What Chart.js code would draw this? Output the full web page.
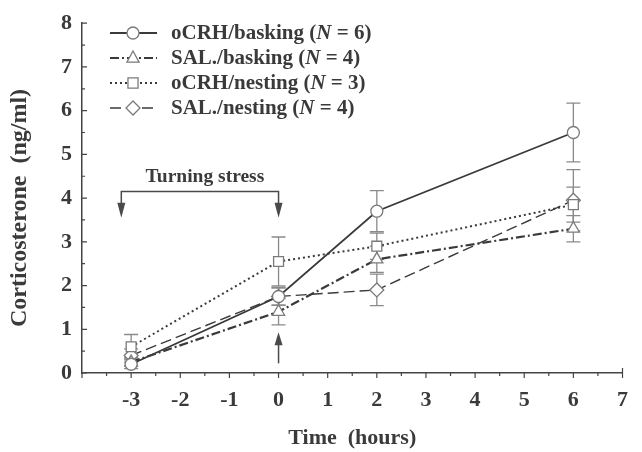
<!DOCTYPE html>
<html><head><meta charset="utf-8">
<script src="https://cdn.jsdelivr.net/npm/chart.js@4.4.1/dist/chart.umd.min.js"></script>
<style>html,body{margin:0;padding:0;background:#fff}#wrap{width:642px;height:452px}</style>
</head><body><div id="wrap"><canvas id="c" width="642" height="452"></canvas></div>
<script>
// ---- data ----
const hours = [-3, 0, 2, 6];
const seriesNames = ['oCRH/basking', 'SAL./basking', 'oCRH/nesting', 'SAL./nesting'];
const seriesN = [6, 4, 3, 4];
const ocrhBasking = [0.2, 1.75, 3.7, 5.5];
const ocrhBaskingErr = [0.1, 0.2, 0.47, 0.67];
const salBasking = [0.25, 1.4, 2.6, 3.3];
const salBaskingErr = [0.1, 0.3, 0.3, 0.3];
const ocrhNesting = [0.6, 2.55, 2.9, 3.85];
const ocrhNestingErr = [0.28, 0.56, 0.3, 0.4];
const salNesting = [0.4, 1.75, 1.9, 3.95];
const salNestingErr = [0.15, 0.2, 0.36, 0.7];
const xTickValues = [-4, -3, -2, -1, 0, 1, 2, 3, 4, 5, 6, 7];
const yTickValues = [0, 1, 2, 3, 4, 5, 6, 7, 8];
const stressLabel = 'Turning stress';
const stressFrom = -3.2, stressTo = 0;
const xTitle = 'Time  (hours)';
const yTitle = 'Corticosterone  (ng/ml)';

const seriesValues = [ocrhBasking, salBasking, ocrhNesting, salNesting];
const seriesErrs = [ocrhBaskingErr, salBaskingErr, ocrhNestingErr, salNestingErr];

// ---- styles ----
const INK = '#3a3a3a';
const MARK = '#7a7a7a';
const SERIF = '"Liberation Serif", "Times New Roman", serif';
const styles = [
  {dash: [], width: 1.8, point: 'circle', r: 6},
  {dash: [9, 3, 2, 3], width: 2.2, point: 'triangle', r: 7},
  {dash: [2, 3], width: 2, point: 'rect', r: 7},
  {dash: [11, 5], width: 1.4, point: 'rectRot', r: 7}
];

function drawMarker(ctx, type, x, y, r) {
  ctx.save();
  ctx.beginPath();
  if (type === 'circle') {
    ctx.arc(x, y, r, 0, Math.PI * 2);
  } else if (type === 'triangle') {
    ctx.moveTo(x, y - r);
    ctx.lineTo(x + r * 0.87, y + r * 0.6);
    ctx.lineTo(x - r * 0.87, y + r * 0.6);
    ctx.closePath();
  } else if (type === 'rect') {
    const s = r * 0.72;
    ctx.rect(x - s, y - s, 2 * s, 2 * s);
  } else {
    ctx.moveTo(x, y - r); ctx.lineTo(x + r, y); ctx.lineTo(x, y + r); ctx.lineTo(x - r, y); ctx.closePath();
  }
  ctx.setLineDash([]);
  ctx.fillStyle = '#fff';
  ctx.fill();
  ctx.lineWidth = 1.3;
  ctx.strokeStyle = MARK;
  ctx.stroke();
  ctx.restore();
}

const datasets = seriesValues.map((vals, i) => ({
  label: seriesNames[i],
  data: hours.map((h, j) => ({x: h, y: vals[j]})),
  borderColor: INK,
  borderWidth: styles[i].width,
  borderDash: styles[i].dash,
  pointStyle: styles[i].point,
  pointRadius: styles[i].r,
  pointBackgroundColor: '#fff',
  pointBorderColor: MARK,
  pointBorderWidth: 1.3,
  fill: false,
  tension: 0
}));

const bgPlugin = {
  id: 'bg',
  beforeDraw(chart) {
    const c = chart.ctx; c.save(); c.fillStyle = '#fff'; c.fillRect(0, 0, chart.width, chart.height); c.restore();
  }
};

const errPlugin = {
  id: 'errbars',
  beforeDatasetsDraw(chart) {
    const {ctx, scales: {x, y}} = chart;
    ctx.save();
    ctx.strokeStyle = '#8a8a8a';
    ctx.lineWidth = 1.3;
    seriesValues.forEach((vals, i) => {
      vals.forEach((v, j) => {
        const e = seriesErrs[i][j];
        const px = x.getPixelForValue(hours[j]);
        const top = y.getPixelForValue(v + e), bot = y.getPixelForValue(v - e);
        ctx.beginPath();
        ctx.moveTo(px, top); ctx.lineTo(px, bot);
        ctx.moveTo(px - 7, top); ctx.lineTo(px + 7, top);
        ctx.moveTo(px - 7, bot); ctx.lineTo(px + 7, bot);
        ctx.stroke();
      });
    });
    ctx.restore();
  }
};

const axisPlugin = {
  id: 'axisTicks',
  afterDraw(chart) {
    const {ctx, scales: {x, y}, chartArea: a} = chart;
    ctx.save();
    ctx.strokeStyle = '#444';
    ctx.lineWidth = 1.2;
    ctx.beginPath();
    for (let v = -4; v <= 7; v += 0.5) {
      const px = x.getPixelForValue(v);
      const len = Number.isInteger(v) ? 5 : 3;
      ctx.moveTo(px, a.bottom); ctx.lineTo(px, a.bottom + len);
    }
    const pe = x.getPixelForValue(7);
    ctx.moveTo(pe, a.bottom); ctx.lineTo(pe, a.bottom - 5);
    for (let v = 0; v <= 8; v += 0.5) {
      const py = y.getPixelForValue(v);
      const len = Number.isInteger(v) ? 5 : 3;
      ctx.moveTo(a.left, py); ctx.lineTo(a.left + len, py);
    }
    ctx.stroke();
    // y axis title
    ctx.fillStyle = INK;
    ctx.font = 'bold 24px ' + SERIF;
    ctx.textAlign = 'center';
    ctx.textBaseline = 'middle';
    ctx.translate(20, 208);
    ctx.rotate(-Math.PI / 2);
    ctx.fillText(yTitle, 0, 0);
    ctx.restore();
  }
};

function arrowHead(ctx, x, tipY, dir, len, half) {
  ctx.beginPath();
  ctx.moveTo(x, tipY);
  ctx.lineTo(x - half, tipY - dir * len);
  ctx.lineTo(x + half, tipY - dir * len);
  ctx.closePath();
  ctx.fill();
}

const annotPlugin = {
  id: 'annot',
  afterDatasetsDraw(chart) {
    const {ctx, scales: {x, y}} = chart;
    ctx.save();
    ctx.strokeStyle = '#4a4a4a';
    ctx.fillStyle = '#4a4a4a';
    ctx.lineWidth = 1.5;
    const x1 = x.getPixelForValue(stressFrom), x2 = x.getPixelForValue(stressTo);
    const by = y.getPixelForValue(4.15), ty = y.getPixelForValue(3.55);
    ctx.beginPath();
    ctx.moveTo(x1, ty - 10); ctx.lineTo(x1, by); ctx.lineTo(x2, by); ctx.lineTo(x2, ty - 10);
    ctx.stroke();
    arrowHead(ctx, x1, ty, 1, 15, 4);
    arrowHead(ctx, x2, ty, 1, 15, 4);
    const ux = x.getPixelForValue(0);
    const uTip = y.getPixelForValue(0.93), uTail = y.getPixelForValue(0.22);
    ctx.beginPath(); ctx.moveTo(ux, uTail); ctx.lineTo(ux, uTip + 10); ctx.stroke();
    arrowHead(ctx, ux, uTip, -1, 13, 4);
    ctx.fillStyle = INK;
    ctx.font = 'bold 19.5px ' + SERIF;
    ctx.textAlign = 'center';
    ctx.textBaseline = 'middle';
    ctx.fillText(stressLabel, (x1 + x2) / 2 + 5, by - 15);
    ctx.restore();
  }
};

const legendPlugin = {
  id: 'customLegend',
  afterDatasetsDraw(chart) {
    const ctx = chart.ctx;
    const rowsY = [33, 58, 83, 108];
    const lx0 = 110, lx1 = 157, mx = 133, tx = 171;
    ctx.save();
    seriesNames.forEach((name, i) => {
      const yy = rowsY[i];
      ctx.strokeStyle = INK;
      ctx.lineWidth = styles[i].width;
      ctx.setLineDash(styles[i].dash);
      ctx.beginPath(); ctx.moveTo(lx0, yy); ctx.lineTo(lx1, yy); ctx.stroke();
      drawMarker(ctx, styles[i].point, mx, yy, styles[i].r);
      ctx.fillStyle = INK;
      ctx.textBaseline = 'middle';
      ctx.textAlign = 'left';
      const bold = 'bold 21px ' + SERIF, ital = 'italic bold 21px ' + SERIF;
      let cx = tx;
      const parts = [[name + ' (', bold], ['N', ital], [' = ' + seriesN[i] + ')', bold]];
      parts.forEach(([t, f]) => { ctx.font = f; ctx.fillText(t, cx, yy + 1); cx += ctx.measureText(t).width; });
    });
    ctx.restore();
  }
};

new Chart(document.getElementById('c'), {
  type: 'line',
  data: {datasets},
  options: {
    responsive: false,
    animation: false,
    devicePixelRatio: 1,
    layout: {padding: {left: 0, right: 8, top: 18, bottom: 0}},
    plugins: {legend: {display: false}, tooltip: {enabled: false}},
    scales: {
      x: {
        type: 'linear', min: -4, max: 7,
        afterBuildTicks: s => { s.ticks = xTickValues.map(v => ({value: v})); },
        afterFit: s => { s.height = 79; },
        grid: {display: true, drawOnChartArea: false, drawTicks: false, color: 'rgba(0,0,0,0)'},
        border: {display: true, color: '#444', width: 1.5},
        ticks: {
          padding: 14, color: INK, maxRotation: 0, autoSkip: false,
          font: {family: SERIF, size: 22, weight: 'bold'},
          callback: v => (v === -4 ? '' : String(v))
        },
        title: {display: true, text: xTitle, color: INK, padding: {top: 0, bottom: 0},
          font: {family: SERIF, size: 22, weight: 'bold'}}
      },
      y: {
        type: 'linear', min: 0, max: 8,
        afterBuildTicks: s => { s.ticks = yTickValues.map(v => ({value: v})); },
        afterFit: s => { s.width = 82; },
        grid: {display: true, drawOnChartArea: false, drawTicks: false, color: 'rgba(0,0,0,0)'},
        border: {display: true, color: '#444', width: 1.5},
        ticks: {padding: 10, color: INK, font: {family: SERIF, size: 22, weight: 'bold'}},
        title: {display: false, text: yTitle}
      }
    }
  },
  plugins: [bgPlugin, errPlugin, annotPlugin, legendPlugin, axisPlugin]
});
</script>
</body></html>
